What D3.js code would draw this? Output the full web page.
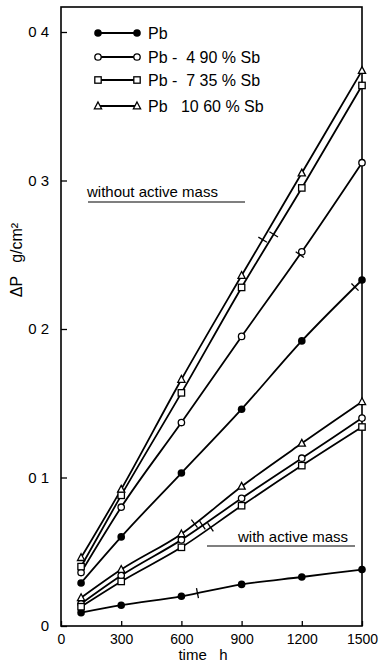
<!DOCTYPE html>
<html>
<head>
<meta charset="utf-8">
<script src="https://cdn.jsdelivr.net/npm/d3@7"></script>
<style>
  body { margin: 0; background: #fff; }
  svg { display: block; font-family: "Liberation Sans", Arial, sans-serif; }
  text { white-space: pre; }
</style>
</head>
<body>
<script>
// time in hours, weight gain in g/cm2
var times = [100, 300, 600, 900, 1200, 1500];

var pbWithout     = [0.029, 0.060, 0.103, 0.146, 0.192, 0.233];
var sb490Without  = [0.036, 0.080, 0.137, 0.195, 0.252, 0.312];
var sb735Without  = [0.040, 0.088, 0.157, 0.228, 0.295, 0.364];
var sb1060Without = [0.046, 0.092, 0.166, 0.236, 0.305, 0.374];

var pbWith     = [0.009, 0.014, 0.020, 0.028, 0.033, 0.038];
var sb490With  = [0.015, 0.034, 0.058, 0.086, 0.113, 0.140];
var sb735With  = [0.013, 0.030, 0.053, 0.081, 0.108, 0.134];
var sb1060With = [0.019, 0.038, 0.062, 0.094, 0.123, 0.151];

var xTicks = [0, 300, 600, 900, 1200, 1500];
var yTicks = [0, 0.1, 0.2, 0.3, 0.4];
var yTickLabels = ["0", "0 1", "0 2", "0 3", "0 4"];

var legendLabels = ["Pb", "Pb -  4 90 % Sb", "Pb -  7 35 % Sb", "Pb   10 60 % Sb"];
var legendSymbols = ["dot", "circle", "square", "triangle"];

// small break marks drawn across the lines (time where they sit)
var breakMarks = [
    { values: sb1060Without, t: 1005 },
    { values: sb735Without, t: 1060 },
    { values: sb490Without, t: 1190 },
    { values: pbWithout, t: 1465 },
    { values: sb1060With, t: 665 },
    { values: sb490With, t: 705 },
    { values: sb735With, t: 745 },
    { values: pbWith, t: 680 }
];

var width = 379, height = 664;
var svg = d3.select("body").append("svg")
    .attr("width", width)
    .attr("height", height);

var x = d3.scaleLinear().domain([0, 1500]).range([61, 362]);
var y = d3.scaleLinear().domain([0, 0.4]).range([626, 32]);

// frame
svg.append("rect")
    .attr("x", x(0)).attr("y", 7)
    .attr("width", x(1500) - x(0)).attr("height", y(0) - 7)
    .attr("fill", "none").attr("stroke", "#000").attr("stroke-width", 1.6);

// axes
var xAxis = d3.axisBottom(x).tickValues(xTicks).tickFormat(d3.format("d"))
    .tickSizeInner(-5).tickSizeOuter(0).tickPadding(8);
var gx = svg.append("g").attr("transform", "translate(0," + y(0) + ")").call(xAxis);
gx.select(".domain").remove();
gx.selectAll("line").attr("stroke-width", 1.3);
gx.selectAll("text").attr("font-size", 14).attr("fill", "#000");

var yAxis = d3.axisLeft(y).tickValues(yTicks).tickSizeInner(-6).tickSizeOuter(0).tickPadding(12)
    .tickFormat(function (d, i) { return yTickLabels[i]; });
var gy = svg.append("g").attr("transform", "translate(" + x(0) + ",0)").call(yAxis);
gy.select(".domain").remove();
gy.selectAll("line").attr("stroke-width", 1.3);
gy.selectAll("text").attr("font-size", 15).attr("fill", "#000");

// axis titles
svg.append("text")
    .attr("x", 203).attr("y", 660)
    .attr("text-anchor", "middle")
    .attr("font-size", 15)
    .text("time   h");

svg.append("text")
    .attr("transform", "translate(22,260) rotate(-90)")
    .attr("text-anchor", "middle")
    .attr("font-size", 16)
    .text("\u0394P   g/cm\u00b2");

var series = [
    { values: pbWithout, symbol: "dot" },
    { values: sb490Without, symbol: "circle" },
    { values: sb735Without, symbol: "square" },
    { values: sb1060Without, symbol: "triangle" },
    { values: pbWith, symbol: "dot" },
    { values: sb490With, symbol: "circle" },
    { values: sb735With, symbol: "square" },
    { values: sb1060With, symbol: "triangle" }
];

var line = d3.line()
    .x(function (d) { return x(d[0]); })
    .y(function (d) { return y(d[1]); })
    .curve(d3.curveMonotoneX);

function drawSymbol(g, kind, cx, cy) {
    if (kind === "dot") {
        g.append("circle").attr("cx", cx).attr("cy", cy).attr("r", 3.8).attr("fill", "#000");
    } else if (kind === "circle") {
        g.append("circle").attr("cx", cx).attr("cy", cy).attr("r", 3.2)
            .attr("fill", "#fff").attr("stroke", "#000").attr("stroke-width", 1.3);
    } else if (kind === "square") {
        g.append("rect").attr("x", cx - 3.2).attr("y", cy - 3.2).attr("width", 6.4).attr("height", 6.4)
            .attr("fill", "#fff").attr("stroke", "#000").attr("stroke-width", 1.3);
    } else {
        g.append("path")
            .attr("d", "M" + cx + "," + (cy - 4) + "L" + (cx + 3.6) + "," + (cy + 2.8) + "L" + (cx - 3.6) + "," + (cy + 2.8) + "Z")
            .attr("fill", "#fff").attr("stroke", "#000").attr("stroke-width", 1.3);
    }
}

var plot = svg.append("g");

series.forEach(function (s) {
    var pts = times.map(function (t, i) { return [t, s.values[i]]; });
    plot.append("path")
        .attr("d", line(pts))
        .attr("fill", "none")
        .attr("stroke", "#000")
        .attr("stroke-width", 1.8);
});

series.forEach(function (s) {
    times.forEach(function (t, i) {
        drawSymbol(plot, s.symbol, x(t), y(s.values[i]));
    });
});

// break marks, perpendicular to the line
breakMarks.forEach(function (b) {
    var i = d3.bisectRight(times, b.t) - 1;
    var t0 = times[i], t1 = times[i + 1];
    var f = (b.t - t0) / (t1 - t0);
    var px = x(b.t);
    var py = y(b.values[i] + f * (b.values[i + 1] - b.values[i]));
    var dx = x(t1) - x(t0), dy = y(b.values[i + 1]) - y(b.values[i]);
    var len = Math.sqrt(dx * dx + dy * dy);
    var nx = -dy / len * 5, ny = dx / len * 5;
    plot.append("line")
        .attr("x1", px - nx).attr("y1", py - ny)
        .attr("x2", px + nx).attr("y2", py + ny)
        .attr("stroke", "#000").attr("stroke-width", 1.3);
});

// legend
var legend = svg.append("g");
var rowY = [33, 57, 80, 106];
legendLabels.forEach(function (label, i) {
    legend.append("line")
        .attr("x1", 98).attr("x2", 137)
        .attr("y1", rowY[i]).attr("y2", rowY[i])
        .attr("stroke", "#000").attr("stroke-width", 1.8);
    drawSymbol(legend, legendSymbols[i], 98, rowY[i]);
    drawSymbol(legend, legendSymbols[i], 137, rowY[i]);
    legend.append("text")
        .attr("x", 148).attr("y", rowY[i] + 5.5)
        .attr("font-size", 16)
        .text(label);
});

// group annotations
svg.append("text")
    .attr("x", 87).attr("y", 197)
    .attr("font-size", 15)
    .text("without active mass");
svg.append("line")
    .attr("x1", 88).attr("x2", 245).attr("y1", 202).attr("y2", 202)
    .attr("stroke", "#000").attr("stroke-width", 1.2);

svg.append("text")
    .attr("x", 238).attr("y", 542)
    .attr("font-size", 15)
    .text("with active mass");
svg.append("line")
    .attr("x1", 207).attr("x2", 355).attr("y1", 546).attr("y2", 546)
    .attr("stroke", "#000").attr("stroke-width", 1.2);
</script>
</body>
</html>
